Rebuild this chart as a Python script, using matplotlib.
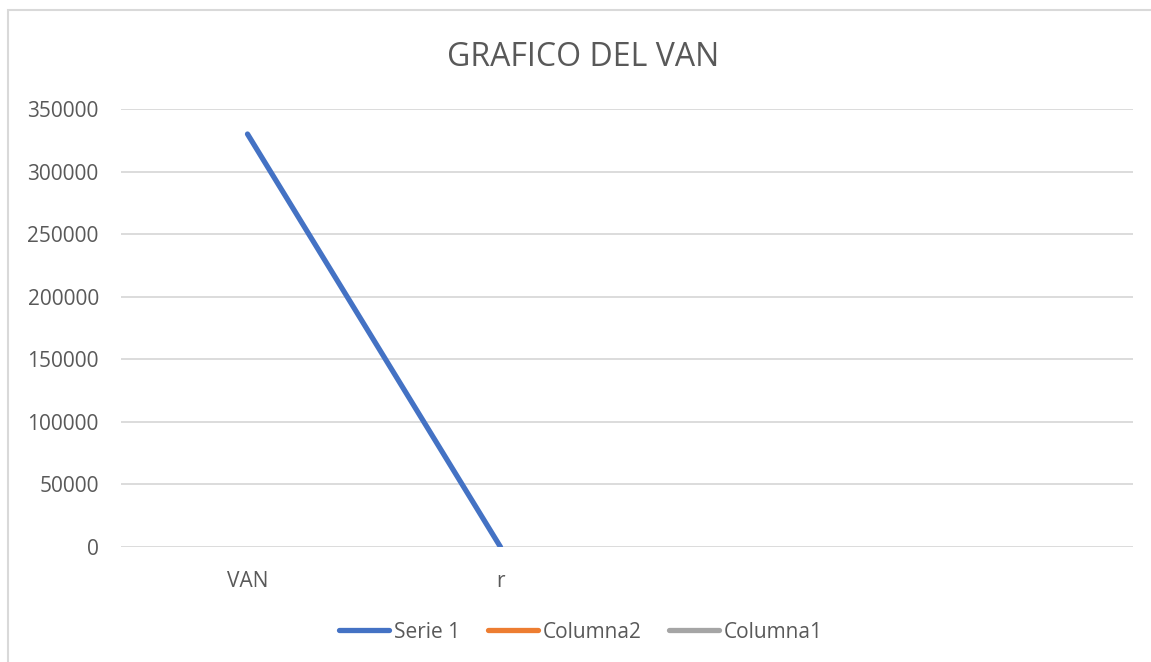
import numpy as np
import matplotlib
matplotlib.use("Agg")
import matplotlib.pyplot as plt
from matplotlib.patches import Rectangle

plt.rcParams['font.family'] = ['Open Sans', 'DejaVu Sans']

# Data
categories = ["VAN", "r", "", ""]
serie1 = [330000, 0, np.nan, np.nan]
columna2 = [np.nan, np.nan, np.nan, np.nan]
columna1 = [np.nan, np.nan, np.nan, np.nan]

text_color = "#595959"
grid_color = "#d9d9d9"

fig = plt.figure(figsize=(11.51, 6.62), dpi=100)
ax = fig.add_axes([121 / 1151, 1 - 547 / 662, (1133 - 121) / 1151, (547 - 109) / 662])

x = np.arange(len(categories))
ax.plot(x, serie1, color="#4472c4", linewidth=3.8, solid_capstyle="round", label="Serie 1")
ax.plot(x, columna2, color="#ed7d31", linewidth=3.8, solid_capstyle="round", label="Columna2")
ax.plot(x, columna1, color="#a5a5a5", linewidth=3.8, solid_capstyle="round", label="Columna1")

ax.set_xlim(-0.5, len(categories) - 0.5)
ax.set_ylim(0, 350000)
ax.set_yticks(np.arange(0, 350001, 50000))
ax.set_xticks(x)
ax.set_xticklabels(categories)

ax.grid(axis="y", color=grid_color, linewidth=1.3)
ax.set_axisbelow(True)
for s in ax.spines.values():
    s.set_visible(False)
ax.tick_params(axis="both", length=0, labelsize=15, labelcolor=text_color)
ax.tick_params(axis="y", pad=16)
ax.tick_params(axis="x", pad=17)

# Title
fig.text(583 / 1151, 1 - 57 / 662, "GRAFICO DEL VAN", fontsize=23, color=text_color,
         ha="center", va="center")

# Legend
leg = fig.legend(loc="center", bbox_to_anchor=(581 / 1151, 1 - 632 / 662), ncol=3,
                 frameon=False, fontsize=15, handlelength=2.4, handletextpad=0.25,
                 columnspacing=1.3, labelcolor=text_color)

# Chart area border
fig.patches.append(Rectangle((8 / 1151, -0.05), 1.0, 1 - 10 / 662 + 0.05,
                             transform=fig.transFigure, fill=False,
                             edgecolor="#d9d9d9", linewidth=1.5))

fig.savefig("out.png", dpi=100)
